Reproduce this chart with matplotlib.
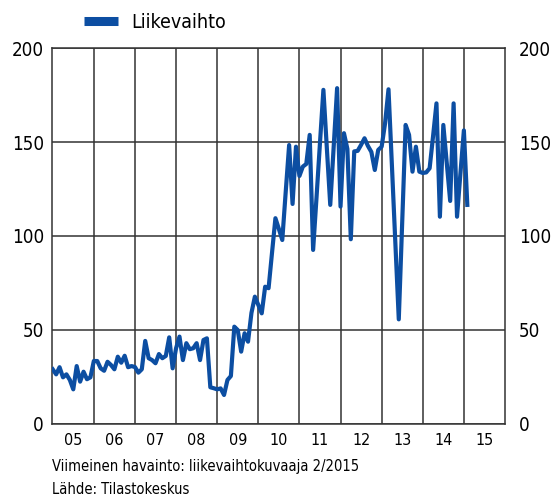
import numpy as np
import matplotlib
matplotlib.use('Agg')
import matplotlib.pyplot as plt
from matplotlib.lines import Line2D

# monthly turnover index, 1/2005 - 2/2015
start_year = 2005
values = [
    28.9, 26.2, 30.0, 24.6, 26.2, 23.2, 18.2, 30.6, 22.3, 27.6, 23.6, 24.6,   # 2005
    33.3, 33.3, 29.4, 28.1, 32.9, 31.2, 28.9, 35.6, 32.4, 36.1, 30.0, 30.6,   # 2006
    30.1, 27.1, 28.9, 44.0, 34.8, 33.8, 32.1, 37.0, 34.8, 36.0, 45.9, 29.4,   # 2007
    40.1, 46.3, 33.8, 42.8, 39.6, 40.1, 42.8, 33.8, 44.5, 45.4, 19.3, 18.8,   # 2008
    18.2, 18.7, 15.2, 23.2, 25.3, 51.6, 49.8, 38.3, 48.1, 43.6, 58.9, 67.6,   # 2009
    63.2, 58.7, 72.9, 72.1, 90.9, 109.4, 103.7, 97.8, 123.4, 148.4, 117.0, 147.5,  # 2010
    131.9, 136.9, 138.3, 153.8, 92.5, 120.7, 149.5, 177.8, 146.9, 116.5, 147.4, 178.7,  # 2011
    115.6, 154.7, 146.3, 98.2, 145.0, 145.3, 148.5, 152.0, 147.9, 144.7, 135.1, 145.8,  # 2012
    147.5, 160.0, 178.1, 137.3, 96.2, 55.5, 107.4, 159.1, 153.8, 134.2, 147.5, 134.2,  # 2013
    133.5, 133.8, 136.0, 153.0, 170.6, 110.2, 159.1, 138.9, 118.6, 170.6, 110.2, 133.5,  # 2014
    156.2, 116.5,  # 2015
]
year_labels = ['05', '06', '07', '08', '09', '10', '11', '12', '13', '14', '15']
y_ticks = [0, 50, 100, 150, 200]
series_name = 'Liikevaihto'
note1 = 'Viimeinen havainto: liikevaihtokuvaaja 2/2015'
note2 = 'Lähde: Tilastokeskus'

plt.rcParams['font.family'] = ['DejaVu Sans']
plt.rcParams['font.stretch'] = 'condensed'

x = start_year + np.arange(len(values)) / 12.0
blue = '#0c4ea2'
grid_c = '#333333'

fig = plt.figure(figsize=(5.53, 4.97), dpi=100)
ax = fig.add_axes([52.3 / 553, 73.5 / 497, (505 - 52.3) / 553, (423.5 - 48.2) / 497])

ax.plot(x, values, color=blue, lw=3.0, solid_joinstyle='round', zorder=3)

ax.set_xlim(2004.99, 2016.0)
ax.set_ylim(0, 200)
ax.set_yticks(y_ticks)
ax.set_xticks(np.arange(2006, 2016))
ax.set_xticklabels([])
ax.set_xticks(np.arange(2005, 2016) + 0.5, minor=True)
ax.set_xticklabels(year_labels, minor=True)
ax.grid(True, axis='both', which='major', color=grid_c, lw=1.1)
ax.tick_params(axis='both', which='both', length=0)
ax.tick_params(axis='y', labelsize=13.5, pad=6)
ax.tick_params(axis='x', which='minor', labelsize=11.5, pad=7)
for s in ax.spines.values():
    s.set_color(grid_c)
    s.set_linewidth(1.1)

ax2 = ax.twinx()
ax2.set_ylim(0, 200)
ax2.set_yticks(y_ticks)
ax2.tick_params(axis='y', length=0, labelsize=13.5, pad=10)
for s in ax2.spines.values():
    s.set_visible(False)

handle = [Line2D([0], [0], color=blue, lw=6.5, solid_capstyle='butt')]
fig.legend(handle, [series_name], loc='center left', bbox_to_anchor=(84 / 553, 1 - 22 / 497),
           frameon=False, borderpad=0, borderaxespad=0, handlelength=1.75,
           handletextpad=0.67, fontsize=14)

fig.text(52 / 553, 1 - 466 / 497, note1, fontsize=10.5, va='center', ha='left')
fig.text(52 / 553, 1 - 490 / 497, note2, fontsize=10.5, va='center', ha='left')

fig.savefig('out.png', dpi=100)
